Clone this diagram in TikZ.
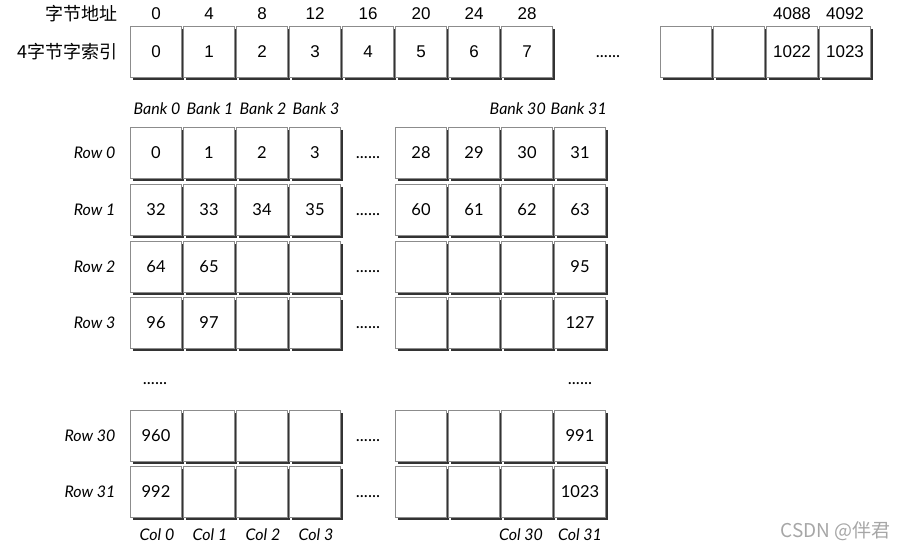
\documentclass[tikz,border=0pt]{standalone}
\usepackage{fontspec}
\setmainfont{Lato}
\newfontfamily\arialf{Liberation Sans}
\newfontfamily\latof{Lato}
\newfontfamily\cjk{Noto Sans CJK SC}
\usetikzlibrary{shadows}
\begin{document}
\begin{tikzpicture}[x=1pt,y=-1pt,
  cell/.style={draw=black!45, line width=0.8pt, fill=white, minimum width=51pt, minimum height=51pt, inner sep=0pt,
    drop shadow={shadow xshift=2.2pt, shadow yshift=-2.2pt, fill=black!80, opacity=1}},
  topnum/.style={font=\arialf\fontsize{17}{18}\selectfont},
  gridnum/.style={font=\latof\fontsize{16.5}{17}\selectfont},
  lab/.style={font=\latof\itshape\fontsize{16}{17}\selectfont},
  cjklab/.style={font=\cjk\fontsize{18}{19}\selectfont, anchor=east},
  dotsl/.style={font=\latof\fontsize{17}{17}\selectfont, anchor=base, inner sep=0pt}]
\useasboundingbox (0,0) rectangle (908,550);
% ---- top row ----
\node[cjklab] (lbaddr) at (121,14) {字节地址};
\node[cjklab] (lbidx) at (121,52) {4字节字索引};
\foreach \i in {0,...,7}{
  \pgfmathsetmacro{\xx}{156+53*\i}
  \pgfmathtruncatemacro{\aa}{4*\i}
  \node[cell, topnum] (t\i) at (\xx,52) {\i};
  \node[topnum] (ta\i) at (\xx,14) {\aa};
}
\node[dotsl] (tdots) at (608,57) {......};
\node[cell] (tx1) at (686,52) {};
\node[cell] (tx2) at (739,52) {};
\node[cell, topnum] (tx3) at (792,52) {1022};
\node[cell, topnum] (tx4) at (845,52) {1023};
\node[topnum] (tax3) at (792,14) {4088};
\node[topnum] (tax4) at (845,14) {4092};
% ---- bank labels ----
\foreach \i/\xx in {0/157,1/210,2/263,3/316}{
  \node[lab] (bank\i) at (\xx,109) {Bank \i};
}
\node[lab, anchor=east, inner xsep=0pt] (bank30) at (546,109) {Bank 30};
\node[lab, anchor=east, inner xsep=0pt] (bank31) at (607,109) {Bank 31};
% ---- grid ----
\foreach \r/\yy/\a/\b/\c/\d/\e/\f/\g/\h in {
  0/153/0/1/2/3/28/29/30/31,
  1/210/32/33/34/35/60/61/62/63,
  2/267/64/65/{}/{}/{}/{}/{}/95,
  3/323/96/97/{}/{}/{}/{}/{}/127,
  30/436/960/{}/{}/{}/{}/{}/{}/991,
  31/492/992/{}/{}/{}/{}/{}/{}/1023}{
  \node[lab, anchor=east] (row\r) at (119,\yy) {Row \r};
  \node[cell, gridnum] (g\r-0) at (156,\yy) {\a};
  \node[cell, gridnum] (g\r-1) at (209,\yy) {\b};
  \node[cell, gridnum] (g\r-2) at (262,\yy) {\c};
  \node[cell, gridnum] (g\r-3) at (315,\yy) {\d};
  \node[dotsl] (gd\r) at (368,\yy+5) {......};
  \node[cell, gridnum] (g\r-28) at (421,\yy) {\e};
  \node[cell, gridnum] (g\r-29) at (474,\yy) {\f};
  \node[cell, gridnum] (g\r-30) at (527,\yy) {\g};
  \node[cell, gridnum] (g\r-31) at (580,\yy) {\h};
}
\node[dotsl] (vd0) at (155,384) {......};
\node[dotsl] (vd31) at (580,384) {......};
% ---- col labels ----
\foreach \i/\xx in {0/157,1/210,2/263,3/316}{
  \node[lab] (col\i) at (\xx,535) {Col \i};
}
\node[lab] (col30) at (521,535) {Col 30};
\node[lab] (col31) at (580,535) {Col 31};
% ---- watermark ----
\node[font=\cjk\fontsize{19}{19}\selectfont, text=black!35, anchor=east] (wm) at (894,531) {CSDN @伴君};
\end{tikzpicture}
\end{document}
